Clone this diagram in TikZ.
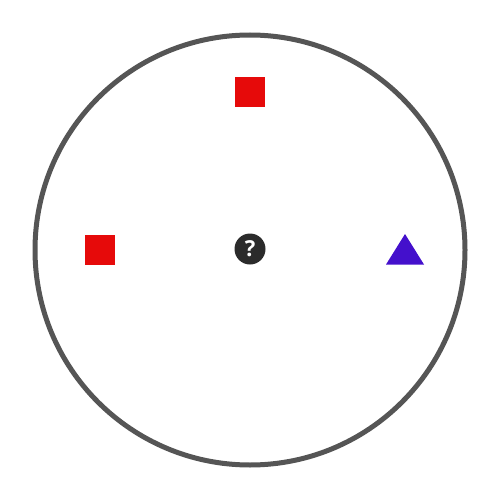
\documentclass[tikz,border=0pt]{standalone}
\usepackage{fontspec}
\setsansfont{Open Sans}
\definecolor{ringgray}{HTML}{555555}
\definecolor{sqred}{HTML}{E60A0A}
\definecolor{tripurple}{HTML}{4410CC}
\definecolor{darkdot}{HTML}{2B2B2B}
\tikzset{
  sq/.style={rectangle, fill=sqred, minimum size=30pt, inner sep=0pt},
  qdot/.style={circle, fill=darkdot, minimum size=31pt, inner sep=0pt, text=white, font=\sffamily\bfseries\fontsize{22}{22}\selectfont},
  ring/.style={circle, draw=ringgray, line width=5pt, minimum size=430pt, inner sep=0pt}
}
\begin{document}
\begin{tikzpicture}[x=1pt,y=-1pt]
\useasboundingbox (0,0) rectangle (500,500);
\node[ring] (ring) at (250,250) {};
\node[sq] (top) at (250,92.5) {};
\node[sq] (left) at (100,250) {};
\coordinate (tri) at (405,250);
\fill[tripurple] ([yshift=16pt]tri) -- ([xshift=19pt,yshift=-14.5pt]tri) -- ([xshift=-19pt,yshift=-14.5pt]tri) -- cycle;
\node[qdot] (q) at (250,249) {?};
\end{tikzpicture}
\end{document}
